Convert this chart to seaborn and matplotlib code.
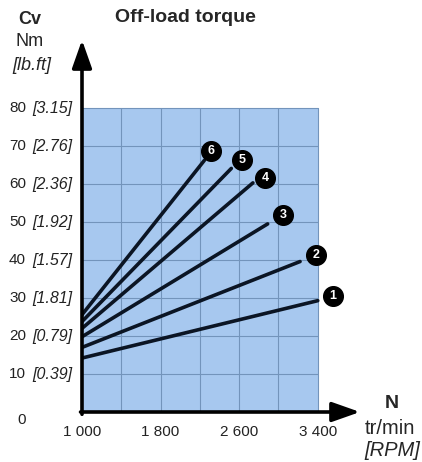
import matplotlib
matplotlib.use("Agg")
import matplotlib.pyplot as plt
import matplotlib.transforms as mtransforms
import seaborn as sns
import pandas as pd

# curves: start (1000 rpm) and end point of each straight line
curves = ["1", "2", "3", "4", "5", "6"]
rpm_start = [1000, 1000, 1000, 1000, 1000, 1000]
torque_start = [14.2, 17.0, 19.8, 22.0, 23.8, 25.6]
rpm_end = [3400, 3220, 2890, 2740, 2520, 2245]
torque_end = [29.3, 39.6, 49.5, 60.3, 64.1, 66.2]
# numbered badge positions
badge_rpm = [3555, 3380, 3045, 2865, 2630, 2315]
badge_torque = [30.5, 41.3, 51.8, 61.6, 66.3, 68.7]

y_ticks = [0, 10, 20, 30, 40, 50, 60, 70, 80]
y_lbft = ["", "[0.39]", "[0.79]", "[1.81]", "[1.57]", "[1.92]", "[2.36]", "[2.76]", "[3.15]"]
x_ticks = [1000, 1800, 2600, 3400]
x_labels = ["1 000", "1 800", "2 600", "3 400"]
x_grid = [1400, 1800, 2200, 2600, 3000, 3400]

df = pd.DataFrame({
    "rpm": rpm_start + rpm_end,
    "torque": torque_start + torque_end,
    "curve": curves + curves,
})

sns.set_style("white")
plt.rcParams["font.family"] = ["Liberation Sans", "DejaVu Sans"]

fig = plt.figure(figsize=(4.22, 4.62), dpi=100)
ax = fig.add_axes([82 / 422, 50 / 462, 278 / 422, 372 / 462])
ax.set_xlim(1000, 3830)
ax.set_ylim(0, 97.9)
ax.axis("off")

blue = "#a7c8ef"
gridc = "#7394bb"
ax.fill_between([1000, 3400], 0, 80, color=blue, zorder=0, lw=0)
for v in y_ticks[1:]:
    ax.plot([1000, 3400], [v, v], color=gridc, lw=0.8, zorder=1)
for v in x_grid:
    ax.plot([v, v], [0, 80], color=gridc, lw=0.8, zorder=1)

sns.lineplot(data=df, x="rpm", y="torque", hue="curve", units="curve",
             estimator=None, palette=["#0b1524"] * 6, lw=2.6,
             legend=False, ax=ax, zorder=3)

for r, t, c in zip(badge_rpm, badge_torque, curves):
    ax.scatter(r, t, s=200, color="black", zorder=4, clip_on=False)
    ax.text(r, t, c, color="white", fontsize=9, fontweight="bold",
            ha="center", va="center", zorder=5)

# axes with arrows
arrow = dict(arrowstyle="-|>,head_length=1.7,head_width=0.6", color="black",
             lw=2.6, shrinkA=0, shrinkB=0)
ax.annotate("", xy=(3830, 0), xytext=(985, 0), arrowprops=arrow, zorder=6,
            annotation_clip=False)
ax.annotate("", xy=(1000, 97.9), xytext=(1000, -0.6), arrowprops=arrow, zorder=6,
            annotation_clip=False)

# y tick labels
tr = mtransforms.blended_transform_factory(fig.transFigure, ax.transData)
for v, b in zip(y_ticks, y_lbft):
    yy = v if v else -2
    ax.text(26 / 422, yy, str(v), transform=tr, ha="right", va="center",
            fontsize=11, color="#222222")
    if b:
        ax.text(32 / 422, yy, b, transform=tr, ha="left", va="center",
                fontsize=11.5, style="italic", color="#222222")

# x tick labels
for v, lab in zip(x_ticks, x_labels):
    ax.text(v, -5.2, lab, ha="center", va="center", fontsize=11, color="#222222")

# axis titles
fig.text(30 / 422, 1 - 19 / 462, "Cv", ha="center", va="center",
         fontsize=13, fontweight="bold")
fig.text(30 / 422, 1 - 42 / 462, "Nm", ha="center", va="center", fontsize=13)
fig.text(32 / 422, 1 - 65 / 462, "[lb.ft]", ha="center", va="center",
         fontsize=13, style="italic")
fig.text(185 / 422, 1 - 18 / 462, "Off-load torque", ha="center", va="center",
         fontsize=14, fontweight="bold")
fig.text(392 / 422, 1 - 403 / 462, "N", ha="center", va="center",
         fontsize=14, fontweight="bold")
fig.text(390 / 422, 1 - 428 / 462, "tr/min", ha="center", va="center", fontsize=14.5)
fig.text(392 / 422, 1 - 450 / 462, "[RPM]", ha="center", va="center",
         fontsize=14.5, style="italic")

fig.savefig("out.png", dpi=100)
